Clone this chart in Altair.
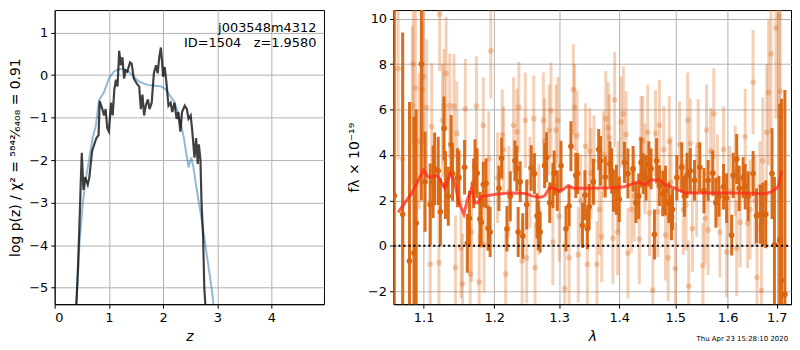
import altair as alt
import pandas as pd

# ---------------- left panel: p(z) ----------------
pz_z = [0.40,0.43,0.47,0.48,0.50,0.53,0.56,0.61,0.64,0.69,0.73,0.77,0.81,0.83,0.88,0.91,0.94,0.97,1.00,1.04,
        1.07,1.10,1.13,1.16,1.19,1.22,1.25,1.28,1.31,1.34,1.39,1.42,1.46,1.51,1.56,1.59,1.62,1.65,1.68,1.72,
        1.75,1.79,1.83,1.87,1.90,1.93,1.96,1.98,2.00,2.03,2.06,2.10,2.14,2.17,2.21,2.25,2.28,2.32,2.35,2.40,
        2.44,2.47,2.51,2.54,2.58,2.61,2.64,2.66,2.69,2.71,2.74,2.76,2.78]
pz_log = [-5.39,-4.52,-3.0,-2.55,-1.83,-2.7,-2.4,-2.58,-2.4,-1.79,-1.63,-1.48,-1.41,-0.61,-0.80,-0.95,-0.80,-1.25,-1.33,-0.65,
          -0.95,-0.34,-0.11,-0.27,0.57,0.23,0.42,-0.08,0.11,0.08,0.30,0.27,-0.08,-0.19,-0.27,-0.80,-0.46,-0.95,-0.72,-0.57,
          -0.80,-0.65,0.04,0.23,0.04,0.42,0.65,0.34,-0.04,0.19,-0.15,-0.72,-0.65,-0.87,-0.65,-1.03,-0.87,-1.33,-0.87,-0.72,
          -0.80,-1.03,-0.95,-1.33,-1.94,-1.48,-2.09,-1.63,-2.0,-3.0,-3.84,-4.98,-5.39]

prior_z = [0.40,0.46,0.52,0.58,0.64,0.70,0.76,0.82,0.91,1.00,1.09,1.18,1.25,1.37,1.46,1.55,1.71,1.85,1.97,2.05,
           2.11,2.20,2.29,2.38,2.47,2.52,2.56,2.61,2.66,2.72,2.78,2.84,2.90,2.93]
prior_log = [-5.39,-3.9,-3.0,-2.4,-1.94,-1.48,-1.18,-0.59,-0.40,-0.08,0.08,0.14,0.15,0.08,-0.04,-0.15,-0.23,-0.25,-0.27,-0.34,
             -0.45,-0.61,-0.92,-1.45,-2.17,-1.94,-2.17,-2.6,-3.0,-3.46,-3.99,-4.52,-5.06,-5.39]

label_x = [4.83, 4.83]
label_y = [1.10, 0.76]
label_txt = ["j003548m4312", "ID=1504\u00a0\u00a0\u00a0z=1.9580"]

# ---------------- right panel: spectrum ----------------
dark_lam = [1.061,1.072,1.081,1.087,1.090,1.097,1.102,1.109,1.113,1.115,1.120,1.123,1.128,1.130,1.134,1.138,1.140,1.147,1.149,1.157,
            1.161,1.164,1.170,1.172,1.175,1.179,1.181,1.184,1.188,1.191,1.194,
            1.207,1.211,1.219,1.224,1.231,1.234,1.236,1.239,1.243,1.249,1.256,1.261,1.265,1.267,1.270,1.277,1.280,1.285,1.290,
            1.292,1.297,1.303,1.311,1.316,1.319,1.327,1.330,1.338,1.342,1.346,1.349,
            1.356,1.365,1.368,1.376,1.384,1.387,1.390,1.395,1.400,1.409,1.415,1.424,1.429,1.434,1.438,1.442,1.447,1.452,
            1.456,1.462,1.466,1.471,1.477,1.482,1.488,1.493,1.495,1.503,1.512,1.517,1.522,
            1.528,1.536,1.546,1.554,1.562,1.571,1.577,1.583,1.592,1.598,1.608,1.611,1.618,1.623,1.631,1.635,1.641,1.651,
            1.658,1.666,1.671,1.677,1.690,1.695,1.706,1.710,1.717]
dark_flux = [2.2,1.39,-0.67,-0.32,1.0,8.0,2.82,1.82,2.82,3.39,3.3,1.5,5.17,2.68,2.18,4.46,3.18,3.0,3.0,3.46,
             0.11,1.21,2.75,3.49,3.2,1.18,1.04,2.7,2.75,0.78,0.61,
             2.53,3.86,0.75,2.18,3.74,3.39,0.61,2.82,0.43,1.82,3.43,3.18,1.32,0.9,0.61,3.53,3.9,1.9,2.65,
             3.2,2.43,3.53,0.75,1.75,4.38,3.1,3.18,0.9,2.23,0.75,1.72,
             2.82,4.24,3.74,3.03,3.6,3.3,2.4,2.47,2.05,3.67,3.18,3.39,1.9,2.18,3.67,3.18,3.0,3.6,
             3.39,0.5,3.74,2.65,2.3,2.43,1.9,1.25,1.6,3.0,3.46,2.18,3.1,
             3.3,2.88,3.46,2.43,2.88,3.2,1.9,2.18,2.6,2.1,0.47,3.1,3.82,2.53,3.0,2.6,2.18,3.18,
             1.32,1.39,1.39,1.39,3.18,0.04,0.26,-1.53,-2.14]
dark_err = [9,8,7,6,5,6,2.2,1.8,1.6,1.6,1.5,1.5,1.4,1.5,1.3,1.3,1.2,1.3,1.2,1.2,
            1.3,1.2,1.1,1.2,1.1,1.2,1.1,1.0,1.1,1.0,1.1,
            1.0,0.9,1.0,1.1,0.9,1.0,1.1,0.9,1.0,1.1,1.0,0.9,1.0,1.1,0.9,1.0,1.1,0.9,1.0,
            1.0,0.9,1.1,1.0,0.9,1.1,1.0,0.9,1.0,1.1,0.9,1.0,
            1.0,0.9,1.1,0.9,1.0,1.0,0.9,1.1,1.0,0.9,1.1,1.0,0.9,1.0,1.1,0.9,1.0,1.0,
            0.9,1.1,1.0,0.9,1.0,1.1,0.9,1.0,0.9,1.0,1.1,0.9,1.0,
            1.0,0.9,1.1,1.0,0.9,1.0,1.1,0.9,1.0,1.1,0.9,1.0,1.1,1.0,0.9,1.0,1.1,1.0,
            1.2,1.3,1.4,1.5,2.0,3.0,6.0,8.0,9.0]

light_lam = [1.066,1.072,1.085,1.086,1.089,1.094,1.098,1.100,1.104,1.109,1.111,1.121,1.122,1.126,1.128,1.131,1.136,1.142,1.144,1.146,
             1.152,1.154,1.158,1.165,1.167,1.174,1.178,1.184,1.185,1.192,1.195,
             1.212,1.214,1.217,1.229,1.234,1.237,1.242,1.247,1.249,1.260,1.262,1.275,1.277,1.284,1.287,1.290,1.295,1.298,1.309,
             1.316,1.323,1.325,1.329,1.331,1.343,1.346,1.350,
             1.357,1.362,1.370,1.373,1.377,1.381,1.383,1.389,1.392,1.397,1.403,1.407,1.412,1.415,1.421,1.435,1.438,1.441,1.450,
             1.453,1.459,1.464,1.471,1.479,1.482,1.487,1.489,1.500,1.508,1.515,1.523,1.525,
             1.528,1.532,1.543,1.552,1.559,1.562,1.567,1.573,1.585,1.592,1.598,1.618,1.625,1.635,1.645,1.651,1.659,1.668,1.671,
             1.679,1.683,1.688,1.698,1.705,1.707,
             1.205,1.222,1.254,1.268,1.300,1.335,1.352,1.366,1.398,1.426,1.445,1.468,1.492,1.520,1.540,1.556,1.580,1.604,1.615,
             1.640,1.655,1.665]
light_flux = [7.8,3.82,6.17,8.0,6.95,4.6,6.88,7.45,6.1,-0.81,5.24,-0.74,10.2,5.53,6.17,7.59,6.17,6.15,-0.96,4.95,
              -0.1,-1.67,6.03,-1.24,0.61,6.15,-1.6,5.31,0.04,3.82,8.59,
              4.88,4.24,-1.24,5.31,5.02,6.1,-0.67,5.53,-0.53,5.6,-0.96,5.53,4.6,5.1,5.96,0.17,5.1,5.53,-1.88,
              -0.53,6.88,6.1,4.85,-0.39,4.38,-0.81,4.17,
              3.74,-0.81,0.4,4.03,5.6,5.2,4.77,0.33,6.43,0.6,5.45,5.8,4.9,-0.32,1.6,0.3,4.7,4.6,5.0,
              1.45,-1.95,4.95,5.31,4.24,0.47,-0.53,4.6,-1.0,4.45,1.6,5.53,-1.77,
              4.5,0.76,4.45,-0.88,5.1,0.7,4.17,5.82,0.61,4.24,-0.26,-0.12,1.04,4.8,1.6,7.2,-1.39,-1.97,3.74,
              5.0,6.75,8.45,9.6,10.1,6.8,
              3.0,2.4,2.8,1.6,1.3,2.0,3.2,1.6,2.6,2.2,3.4,1.5,2.8,1.8,2.4,1.2,2.9,2.4,3.3,
              1.0,2.0,2.6]
light_err = [4,4,3.5,3.5,3.5,3,3,3,3,2.8,2.8,2.8,2.5,2.5,2.5,2.5,2.3,2.3,2.3,2.3,
             2.2,2.2,2.2,2.2,2.2,2.2,2.1,2.1,2.1,2.1,2.1,
             2.0,1.9,2.0,2.1,1.9,2.0,1.9,2.1,2.0,1.9,2.0,2.1,1.9,2.0,2.1,1.9,2.0,1.9,2.0,
             2.1,2.0,1.9,2.0,2.1,1.9,2.0,1.9,
             2.0,1.9,2.0,1.9,2.1,2.0,1.9,2.0,2.1,1.9,2.0,2.1,1.9,2.0,1.9,2.0,1.9,2.0,2.1,
             1.9,2.0,1.9,2.0,1.9,2.0,1.9,2.0,2.0,1.9,2.0,2.1,2.0,
             2.0,1.9,2.0,1.9,2.0,2.0,1.9,2.0,2.0,1.9,2.0,2.1,2.0,2.1,2.2,2.3,2.4,2.6,2.8,
             3.0,3.2,3.5,4.0,4.5,4.5,
             2.0,2.0,2.0,2.0,2.0,2.0,2.0,2.0,2.0,2.0,2.0,2.0,2.0,2.0,2.0,2.0,2.0,2.0,2.0,
             2.0,2.0,2.0]

model_lam = [1.066,1.084,1.095,1.100,1.106,1.111,1.119,1.129,1.137,1.142,1.149,1.156,1.161,1.167,1.172,1.176,1.181,1.188,
             1.202,1.227,1.247,1.257,1.270,1.277,1.285,1.292,1.302,1.315,1.323,1.346,1.389,1.409,1.418,1.433,1.445,
             1.456,1.471,1.482,1.500,1.518,1.562,1.625,1.678,1.691,1.703,1.710]
model_flux = [1.47,2.32,3.03,3.32,3.03,3.03,3.1,2.53,3.18,2.9,1.9,1.39,2.03,2.53,1.9,1.9,2.18,2.2,
              2.27,2.33,2.3,2.2,2.13,2.2,2.56,2.53,2.4,2.65,2.53,2.53,2.56,2.6,2.68,2.82,2.68,
              2.9,2.9,2.68,2.53,2.33,2.33,2.33,2.3,2.4,2.6,3.3]

zero_lam = [1.06, 1.73]
zero_flux = [0.0, 0.0]
stamp = ["Thu Apr 23 15:28:10 2020"]

ORANGE = "#d9650f"
FONT = "DejaVu Sans"

# ---------------- build frames ----------------
pz_df = pd.DataFrame({"z": pz_z, "logp": pz_log})
prior_df = pd.DataFrame({"z": prior_z, "logp": prior_log})
lab_df = pd.DataFrame({"z": label_x, "logp": label_y, "t": label_txt})

def err_df(lam, flux, err):
    return pd.DataFrame({"lam": lam, "flux": flux,
                         "lo": [f - e for f, e in zip(flux, err)],
                         "hi": [f + e for f, e in zip(flux, err)]})

dark_df = err_df(dark_lam, dark_flux, dark_err)
light_df = err_df(light_lam, light_flux, light_err)
model_df = pd.DataFrame({"lam": model_lam, "flux": model_flux})
zero_df = pd.DataFrame({"lam": zero_lam, "flux": zero_flux})
stamp_df = pd.DataFrame({"t": stamp})

H = 296
LW = 271
RW = 400

# left
xz = alt.X("z:Q", scale=alt.Scale(domain=[0, 4.97], nice=False, zero=False),
           axis=alt.Axis(values=[0, 1, 2, 3, 4], title="z", titleFontStyle="italic"))
yz = alt.Y("logp:Q", scale=alt.Scale(domain=[-5.39, 1.53], nice=False, zero=False),
           axis=alt.Axis(values=[-5, -4, -3, -2, -1, 0, 1],
                         title="log p(z) / χ² = ⁵⁸⁴²⁄₆₄₀₈ = 0.91"))

prior_line = alt.Chart(prior_df).mark_line(clip=True, color="#1f77b4", opacity=0.5, strokeWidth=2).encode(x=xz, y=yz)
pz_line = alt.Chart(pz_df).mark_line(clip=True, color="#000000", opacity=0.75, strokeWidth=2.2).encode(x=xz, y=yz)
labels = alt.Chart(lab_df).mark_text(align="right", baseline="middle", fontSize=13, font=FONT, color="black").encode(
    x="z:Q", y="logp:Q", text="t:N")

left = alt.layer(prior_line, pz_line, labels).properties(width=LW, height=H)

# right
xl = alt.X("lam:Q", scale=alt.Scale(type="log", domain=[1.06, 1.73], nice=False),
           axis=alt.Axis(values=[1.1, 1.2, 1.3, 1.4, 1.5, 1.6, 1.7], format=".1f", title="λ",
                         titleFontStyle="italic"))
yl = alt.Y("flux:Q", scale=alt.Scale(domain=[-2.57, 10.38], nice=False, zero=False),
           axis=alt.Axis(values=[-2, 0, 2, 4, 6, 8, 10], title="fλ × 10⁻¹⁹"))

light_bars = alt.Chart(light_df).mark_rule(clip=True, color=ORANGE, opacity=0.3, strokeWidth=3).encode(
    x=xl, y=alt.Y("lo:Q", scale=alt.Scale(domain=[-2.57, 10.38], nice=False, zero=False)), y2="hi:Q")
light_pts = alt.Chart(light_df).mark_circle(clip=True, color=ORANGE, opacity=0.3, size=32).encode(x=xl, y=yl)
dark_bars = alt.Chart(dark_df).mark_rule(clip=True, color=ORANGE, opacity=0.95, strokeWidth=3).encode(
    x=xl, y=alt.Y("lo:Q"), y2="hi:Q")
dark_pts = alt.Chart(dark_df).mark_circle(clip=True, color=ORANGE, opacity=1, size=32).encode(x=xl, y=yl)
model_line = alt.Chart(model_df).mark_line(clip=True, color="#ff2a1a", opacity=0.75, strokeWidth=3).encode(x=xl, y=yl)
zero_line = alt.Chart(zero_df).mark_line(clip=True, color="black", strokeWidth=2, strokeDash=[2, 3]).encode(x=xl, y=yl)
stamp_txt = alt.Chart(stamp_df).mark_text(fontSize=7, font=FONT, color="black", align="center").encode(
    x=alt.value(351), y=alt.value(H + 35), text="t:N")

right = alt.layer(light_bars, light_pts, dark_bars, dark_pts, model_line, zero_line, stamp_txt).properties(
    width=RW, height=H)

chart = alt.hconcat(left, right, spacing=22).properties(
    padding={"left": 0, "top": 0, "right": 0, "bottom": 0}
).configure_view(stroke="black", strokeWidth=1).configure_axis(
    labelFont=FONT, titleFont=FONT, labelFontSize=13, titleFontSize=14, titleFontWeight="normal",
    labelColor="black", titleColor="black", gridColor="#b0b0b0", gridWidth=1, gridOpacity=1,
    domainColor="black", tickColor="black", tickSize=4, labelPadding=3, titlePadding=6
)

chart.save("out.html", embed_options={"renderer": "svg", "actions": False})
